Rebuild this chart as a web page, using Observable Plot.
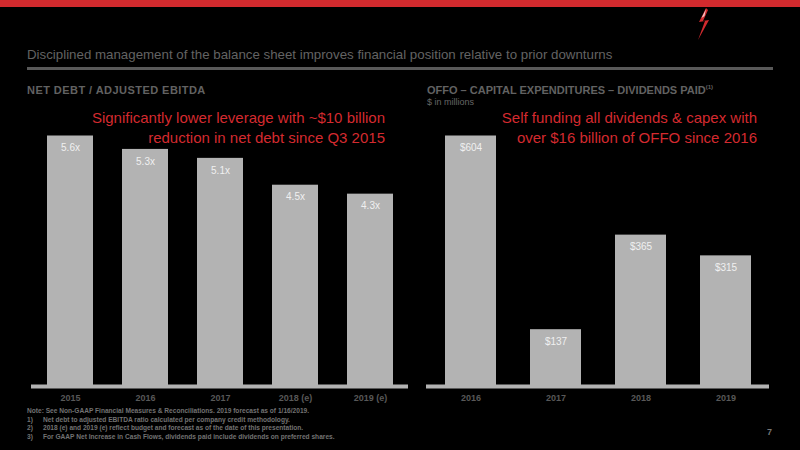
<!DOCTYPE html>
<html>
<head>
<meta charset="utf-8">
<script src="https://cdn.jsdelivr.net/npm/d3@7"></script>
<script src="https://cdn.jsdelivr.net/npm/@observablehq/plot@0.6"></script>
<style>
  html, body { margin: 0; padding: 0; background: #000; }
  body { width: 800px; height: 450px; position: relative; overflow: hidden; font-family: "Liberation Sans", Arial, sans-serif; }
  .abs { position: absolute; white-space: nowrap; }
  #band { left: 0; top: 0; width: 800px; height: 7px; background: #d22a2e; }
  #title { left: 27px; top: 47px; font-size: 13.3px; color: #636363; }
  #rule { left: 27px; top: 67px; width: 746px; height: 3px; background: #595959; }
  .sub { font-weight: bold; color: #626262; }
  #subL { left: 27px; top: 84px; font-size: 11px; letter-spacing: 0.45px; }
  #subR { left: 427px; top: 84px; font-size: 11px; }
  #unit { left: 427px; top: 97px; font-size: 9px; color: #666; }
  .red { font-size: 15px; color: #d42a2f; text-align: right; line-height: 19.5px; }
  #redL { right: 415px; top: 108px; }
  #redR { right: 43px; top: 108px; }
  #plotL { left: 0; top: 120px; }
  #plotR { left: 415px; top: 120px; }
  #notes { left: 27px; top: 407px; font-size: 6.6px; font-weight: bold; color: #727272; line-height: 8.7px; }
  #notes .ind { padding-left: 16px; position: relative; }
  #notes .ind span { position: absolute; left: 0; }
  #page { left: 767px; top: 427px; font-size: 9px; color: #777; font-weight: bold; }
  #logo { left: 692px; top: 8px; }
</style>
</head>
<body>
<div id="band" class="abs"></div>
<svg id="logo" class="abs" width="24" height="32" viewBox="0 0 24 32">
  <polygon points="14,0 7,14 13,13 6,32 17,12 11,13 16,2" fill="#d22a2e"/>
  <polygon points="14,1 9.5,10 12.5,8" fill="#fff" opacity="0.75"/>
</svg>
<div id="title" class="abs">Disciplined management of the balance sheet improves financial position relative to prior downturns</div>
<div id="rule" class="abs"></div>
<div id="subL" class="abs sub">NET DEBT / ADJUSTED EBITDA</div>
<div id="subR" class="abs sub">OFFO – CAPITAL EXPENDITURES – DIVIDENDS PAID<sup style="font-size:6px">(1)</sup></div>
<div id="unit" class="abs">$ in millions</div>
<div id="redL" class="abs red">Significantly lower leverage with ~$10 billion<br>reduction in net debt since Q3 2015</div>
<div id="redR" class="abs red">Self funding all dividends &amp; capex with<br>over $16 billion of OFFO since 2016</div>
<div id="plotL" class="abs"></div>
<div id="plotR" class="abs"></div>
<div id="notes" class="abs">
  <div>Note: See Non-GAAP Financial Measures &amp; Reconciliations. 2019 forecast as of 1/16/2019.</div>
  <div class="ind"><span>1)</span>Net debt to adjusted EBITDA ratio calculated per company credit methodology.</div>
  <div class="ind"><span>2)</span>2018 (e) and 2019 (e) reflect budget and forecast as of the date of this presentation.</div>
  <div class="ind"><span>3)</span>For GAAP Net Increase in Cash Flows, dividends paid include dividends on preferred shares.</div>
</div>
<div id="page" class="abs">7</div>

<script>
const leftCategories = ["2015", "2016", "2017", "2018 (e)", "2019 (e)"];
const leftValues = [5.6, 5.3, 5.1, 4.5, 4.3];
const rightCategories = ["2016", "2017", "2018", "2019"];
const rightValues = [604, 137, 365, 315];

const barColor = "#b3b3b3";
const font = "'Liberation Sans', Arial, sans-serif";

function barChart(cats, vals, fmt, opts) {
  const data = cats.map((c, i) => ({cat: c, val: vals[i]}));
  return Plot.plot({
    width: opts.width,
    height: 290,
    marginLeft: opts.marginLeft,
    marginRight: opts.marginRight,
    marginTop: 15.5,
    marginBottom: 24,
    style: {background: "transparent", fontFamily: font, overflow: "visible"},
    x: {domain: cats, paddingInner: opts.padding, paddingOuter: opts.padding / 2, align: 0.5, label: null, axis: null},
    y: {domain: [0, d3.max(vals)], axis: null, nice: false},
    marks: [
      Plot.barY(data, {x: "cat", y: "val", fill: barColor}),
      Plot.ruleY([0], {stroke: barColor, strokeWidth: 4}),
      Plot.text(data, {x: "cat", y: "val", text: d => fmt(d.val), dy: 12, fill: "#f0f0f0", fontSize: 10}),
      Plot.axisX({tickSize: 0, tickPadding: 8, fill: "#585858", fontSize: 9, fontWeight: "bold", label: null})
    ]
  });
}

document.getElementById("plotL").appendChild(
  barChart(leftCategories, leftValues, v => v.toFixed(1) + "x", {width: 415, marginLeft: 31, marginRight: 7, padding: 0.39})
);
document.getElementById("plotR").appendChild(
  barChart(rightCategories, rightValues, v => "$" + v, {width: 385, marginLeft: 11, marginRight: 31, padding: 0.405})
);
</script>
</body>
</html>
